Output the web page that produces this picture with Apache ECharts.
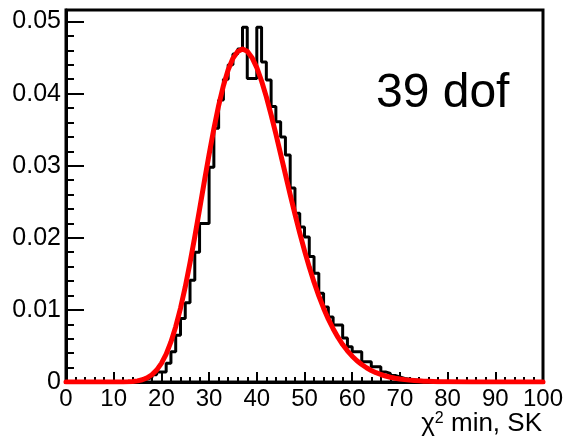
<!DOCTYPE html>
<html>
<head>
<meta charset="utf-8">
<script src="https://cdn.jsdelivr.net/npm/echarts@6/dist/echarts.min.js"></script>
<style>html,body{margin:0;padding:0;background:#fff;}#c{width:566px;height:443px;}</style>
</head>
<body>
<div id="c"></div>
<script>
// Histogram: left edges of 1-unit bins and bin contents
const binLeft = [12,13,14,15,16,17,18,19,20,21,22,23,24,25,26,27,28,29,30,31,32,33,34,35,36,37,38,39,40,41,42,43,44,45,46,47,48,49,50,51,52,53,54,55,56,57,58,59,60,61,62,63,64,65,66,67,68,69,70,71,72,73,74,75,76,77,78,79,80];
const binValue = [0,0,0.0001,0.0002,0.0004,0.0006,0.0010,0.0014,0.0014,0.0026,0.0042,0.0065,0.0088,0.0110,0.0141,0.0180,0.0220,0.0220,0.0298,0.0352,0.0391,0.0420,0.0440,0.0455,0.0462,0.0492,0.0421,0.0421,0.0492,0.0444,0.0419,0.0382,0.0361,0.0340,0.0315,0.0269,0.0234,0.0215,0.0201,0.0174,0.0151,0.0123,0.0104,0.0090,0.0079,0.0079,0.0061,0.0049,0.0042,0.0042,0.0028,0.0028,0.0021,0.0021,0.0014,0.0012,0.0009,0.0007,0.0005,0.0004,0.0003,0.0002,0.0002,0.0001,0.0001,0.00005,0.00005,0,0];
// Fitted curve (red)
const fitX = [0,2,4,6,8,10,11,12,13,14,15,16,17,18,19,20,21,22,23,24,25,26,27,28,29,30,31,32,33,34,35,36,37,38,39,40,41,42,43,44,45,46,47,48,49,50,51,52,53,54,55,56,57,58,59,60,61,62,63,64,65,66,67,68,69,70,71,72,73,74,75,76,78,80,85,90,95,100];
const fitY = [0,0,0,0,0,0.000001,0.000004,0.000011,0.00003,0.000071,0.000154,0.000308,0.000574,0.001003,0.00165,0.00259,0.00387,0.00556,0.00767,0.01022,0.01319,0.01653,0.02015,0.02395,0.02781,0.03158,0.03513,0.03834,0.04110,0.04331,0.04490,0.04586,0.04618,0.04587,0.04499,0.04360,0.04175,0.03955,0.03707,0.03440,0.03161,0.02880,0.02600,0.02328,0.02067,0.01823,0.01594,0.01385,0.01195,0.01024,0.00872,0.00739,0.00621,0.00520,0.00432,0.00358,0.00295,0.00242,0.00197,0.00160,0.00129,0.00104,0.00083,0.000665,0.00053,0.000418,0.00033,0.000259,0.0002,0.000158,0.00012,0.000095,0.00005,0.00003,0.00001,0,0,0];
// Axis settings
const xMin = 0, xMax = 100, xStep = 10;
const yMin = 0, yMax = 0.0516, yStep = 0.01;
const labelText = '39 dof';

const FONT = 'Liberation Sans, Arial, Helvetica, sans-serif';
const histData = binLeft.map((x, i) => [x, binValue[i]]);
histData.push([binLeft[binLeft.length - 1] + 1, 0]);
const fitData = fitX.map((x, i) => [x, fitY[i]]);

const chart = echarts.init(document.getElementById('c'), null, {renderer: 'canvas'});
chart.setOption({
  animation: false,
  backgroundColor: '#fff',
  grid: {left: 66, right: 23, top: 10, bottom: 61, containLabel: false, outerBoundsMode: 'none',
         show: true, borderColor: '#000', borderWidth: 3, backgroundColor: 'transparent'},
  title: [
    {text: '{a|χ}{s|2}{a| min, SK}', right: 24, top: 411, padding: 0,
     textStyle: {fontWeight: 'normal', rich: {
       a: {fontFamily: FONT, fontSize: 26, fontWeight: 'normal', color: '#000'},
       s: {fontFamily: FONT, fontSize: 16, fontWeight: 'normal', color: '#000', verticalAlign: 'top', padding: [0,0,9,0]}
     }}},
    {text: labelText, left: 376, top: 70, padding: 0,
     textStyle: {fontFamily: FONT, fontSize: 48, fontWeight: 'normal', color: '#000'}}
  ],
  xAxis: {
    type: 'value', min: xMin, max: xMax, interval: xStep,
    axisLine: {show: true, onZero: false, lineStyle: {color: '#000', width: 3}},
    axisTick: {show: true, inside: true, length: 10, lineStyle: {color: '#000', width: 2}},
    minorTick: {show: true, splitNumber: 5, length: 5, lineStyle: {color: '#000', width: 2}},
    splitLine: {show: false},
    axisLabel: {fontFamily: FONT, fontSize: 24, color: '#000', margin: 5}
  },
  yAxis: {
    type: 'value', min: yMin, max: yMax, interval: yStep,
    axisLine: {show: true, onZero: false, lineStyle: {color: '#000', width: 3}},
    axisTick: {show: true, inside: true, length: 18, lineStyle: {color: '#000', width: 2}},
    minorTick: {show: true, splitNumber: 5, length: 8, lineStyle: {color: '#000', width: 2}},
    splitLine: {show: false},
    axisLabel: {fontFamily: FONT, fontSize: 25, color: '#000', margin: 5, showMaxLabel: false,
      formatter: v => (Math.abs(v / yStep - Math.round(v / yStep)) < 1e-6) ? String(+v.toFixed(2)) : ''}
  },
  series: [
    {type: 'line', data: histData, step: 'end', symbol: 'none', z: 2,
     lineStyle: {color: '#000', width: 3}},
    {type: 'line', data: fitData, smooth: false, symbol: 'none', z: 3,
     lineStyle: {color: '#ff0000', width: 5, join: 'round', cap: 'round'}}
  ]
});
</script>
</body>
</html>
